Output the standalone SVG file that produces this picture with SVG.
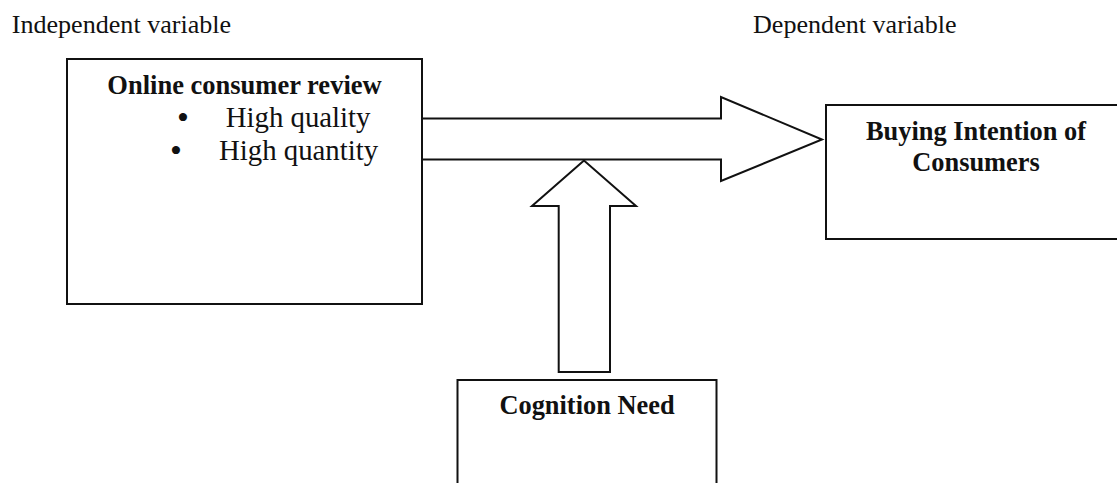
<svg xmlns="http://www.w3.org/2000/svg" width="1117" height="483" viewBox="0 0 1117 483">
<style>
.box{fill:#fff;stroke:#111;stroke-width:2}
.arr{fill:#fff;stroke:#111;stroke-width:2;stroke-linejoin:miter}
.t{font-family:"Liberation Serif","Times New Roman",serif;fill:#111}
.b{font-weight:bold}
.bul{font-family:"Liberation Serif","Times New Roman",serif;fill:#111;font-size:34px;text-anchor:middle}
</style>
<rect width="1117" height="483" fill="#fff"/>
<text class="t" x="11.7" y="33.3" font-size="26.1">Independent variable</text>
<text class="t" x="753" y="33.3" font-size="26.1">Dependent variable</text>
<g id="connectors">
<polygon class="arr" points="422,118.5 721,118.5 721,97 822,139.5 721,181 721,159.5 422,159.5"/>
<polygon class="arr" points="584,160.5 532,206 558.7,206 558.7,372 610,372 610,206 636,206"/>
</g>
<g id="node-review">
<rect class="box" x="67" y="59" width="355" height="245"/>
<text class="t b" x="244.5" y="94.3" font-size="26.5" text-anchor="middle">Online consumer review</text>
<text class="bul" x="183" y="129">•</text>
<text class="t" x="225.7" y="127.3" font-size="28.8">High quality</text>
<text class="bul" x="176" y="161.5">•</text>
<text class="t" x="219" y="160" font-size="28.8">High quantity</text>
</g>
<g id="node-buying">
<rect class="box" x="826" y="105" width="320" height="134"/>
<text class="t b" x="976" y="140" font-size="26.4" text-anchor="middle">Buying Intention of</text>
<text class="t b" x="976" y="171" font-size="26.4" text-anchor="middle">Consumers</text>
</g>
<g id="node-cognition">
<rect class="box" x="457.5" y="380" width="259" height="130"/>
<text class="t b" x="587" y="414" font-size="26.4" text-anchor="middle">Cognition Need</text>
</g>
</svg>
